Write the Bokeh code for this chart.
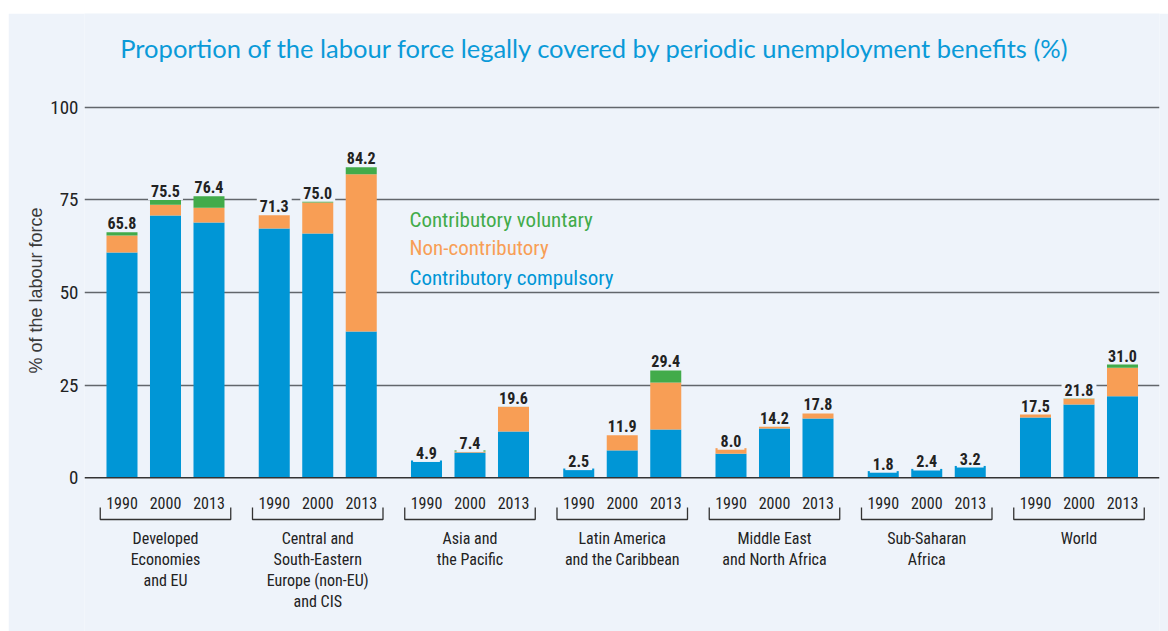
import math
from bokeh.plotting import figure
from bokeh.models import ColumnDataSource, Range1d, FixedTicker, Span, Title, Spacer
from bokeh.layouts import column, row
from bokeh.core.properties import value
from bokeh.embed import file_html
from bokeh.resources import INLINE

# ---------------- data ----------------
chart_title = "Proportion of the labour force legally covered by periodic unemployment benefits (%)"
regions = ["Developed\nEconomies\nand EU",
           "Central and\nSouth-Eastern\nEurope (non-EU)\nand CIS",
           "Asia and\nthe Pacific",
           "Latin America\nand the Caribbean",
           "Middle East\nand North Africa",
           "Sub-Saharan\nAfrica",
           "World"]
years = ["1990", "2000", "2013"]

contributory_compulsory = [60.8, 70.8, 68.9,
                           67.3, 65.9, 39.5,
                           4.7, 6.8, 12.5,
                           2.5, 7.4, 13.0,
                           6.5, 13.3, 16.0,
                           1.8, 2.4, 3.2,
                           16.3, 19.8, 22.0]
non_contributory = [4.6, 2.9, 4.0,
                    4.0, 8.4, 42.4,
                    0.0, 0.3, 6.8,
                    0.0, 4.5, 12.7,
                    1.5, 0.9, 1.8,
                    0.0, 0.0, 0.0,
                    0.9, 1.6, 7.7]
contributory_voluntary = [1.3, 1.7, 3.5,
                          0.0, 0.6, 2.3,
                          0.0, 0.3, 0.3,
                          0.0, 0.0, 3.7,
                          0.0, 0.0, 0.0,
                          0.0, 0.0, 0.0,
                          0.3, 0.4, 1.3]
total_labels = ["65.8", "75.5", "76.4",
                "71.3", "75.0", "84.2",
                "4.9", "7.4", "19.6",
                "2.5", "11.9", "29.4",
                "8.0", "14.2", "17.8",
                "1.8", "2.4", "3.2",
                "17.5", "21.8", "31.0"]
series_names = ["Contributory voluntary", "Non-contributory", "Contributory compulsory"]

# ---------------- style ----------------
BG = "#eef3fa"
BLUE = "#0096d6"
ORANGE = "#f89e55"
GREEN = "#42ab4a"
DARK = "#222222"
COND = "Roboto Condensed, Noto Sans Condensed, DejaVu Sans Condensed, Liberation Sans Narrow, Roboto"

GROUP_STEP = 3.5
BAR_W = 0.713

# page-pixel helpers (frame: x 84..1159, y 13..631 ; y=0 at 477.3, 3.706 px/unit)
PX_PER_X = 43.5
X_START = -0.862
PX_PER_Y = 3.706
Y0_PX = 477.3
def xpx(px):
    return X_START + (px - 84) / PX_PER_X
def ypx(py):
    return (Y0_PX - py) / PX_PER_Y

x_pos = [g * GROUP_STEP + k for g in range(len(regions)) for k in range(len(years))]
year_lab = [years[k] for g in range(len(regions)) for k in range(len(years))]
tops = [a + b + c for a, b, c in zip(contributory_compulsory, non_contributory, contributory_voluntary)]

src = ColumnDataSource(dict(x=x_pos, comp=contributory_compulsory, non=non_contributory,
                            vol=contributory_voluntary, top=tops, lab=total_labels,
                            ylab=[t + 2.0 for t in tops], year=year_lab))

p = figure(width=1160, height=618, output_backend="svg", toolbar_location=None,
           x_range=Range1d(X_START, xpx(1159)), y_range=Range1d(ypx(631), ypx(13)),
           x_axis_type=None, min_border_left=76, min_border_right=9,
           min_border_top=0, min_border_bottom=0)
p.background_fill_color = BG
p.border_fill_color = BG
p.outline_line_color = None

# y axis
ticks = [0, 25, 50, 75, 100]
p.yaxis.ticker = FixedTicker(ticks=ticks)
p.yaxis.axis_line_color = None
p.yaxis.major_tick_line_color = None
p.yaxis.minor_tick_line_color = None
p.yaxis.major_tick_out = 0
p.yaxis.major_tick_in = 0
p.yaxis.major_label_text_font = COND
p.yaxis.major_label_text_font_size = "19px"
p.yaxis.major_label_text_color = DARK
p.yaxis.major_label_standoff = 6
p.ygrid.ticker = FixedTicker(ticks=[25, 50, 75, 100])
p.ygrid.grid_line_color = "#62666b"
p.ygrid.grid_line_width = 1.5
p.xgrid.grid_line_color = None

ytitle = Title(text="% of the labour force", align="left", offset=258,
               text_font="Liberation Sans", text_font_style="normal",
               text_font_size="18px", text_color="#3a3a3a", standoff=4)
p.add_layout(ytitle, "left")

# chart title (inside the frame, above the plotting area)
p.text(x=[xpx(594.5)], y=[ypx(47)], text=[chart_title], text_align="center",
       text_baseline="middle", text_font=value("Lato"), text_font_size="25.5px",
       text_color="#0a9ad8")

# bars
p.vbar_stack(["comp", "non", "vol"], x="x", width=BAR_W, source=src,
             fill_color=[BLUE, ORANGE, GREEN], line_color=None)
p.add_layout(Span(location=0, dimension="width", line_color="#333333", line_width=1.6))

# value labels
p.text(x="x", y="ylab", text="lab", source=src, text_align="center", text_baseline="alphabetic",
       text_font=value(COND), text_font_style="bold", text_font_size="16px", text_color=DARK,
       background_fill_color=BG, padding=3)

# year labels
p.text(x="x", y=ypx(502), text="year", source=src, text_align="center", text_baseline="middle",
       text_font=value(COND), text_font_size="16px", text_color=DARK)

# brackets
bx, by = [], []
for g in range(len(regions)):
    x0 = g * GROUP_STEP - 0.5
    x1 = g * GROUP_STEP + (len(years) - 1) + 0.5
    bx.append([x0, x0, x1, x1])
    by.append([ypx(507), ypx(519), ypx(519), ypx(507)])
p.multi_line(bx, by, line_color="#333333", line_width=1.3)

# group labels
gx = [g * GROUP_STEP + 1 for g in range(len(regions))]
p.text(x=gx, y=[ypx(528)] * len(regions), text=regions, text_align="center", text_baseline="top",
       text_font=value(COND), text_font_size="16px", text_color=DARK, text_line_height=1.12)

# legend as coloured text
p.text(x=[xpx(409)] * 3, y=[ypx(219), ypx(247), ypx(277)], text=series_names,
       text_color=[GREEN, ORANGE, BLUE], text_align="left", text_baseline="middle",
       text_font=value(COND), text_font_size="21px")

layout = row(Spacer(width=8, height=631, background="#ffffff"),
             column(Spacer(height=13, width=1160, background="#ffffff"), p, spacing=0),
             spacing=0)
open("out.html", "w").write(file_html(layout, INLINE))
